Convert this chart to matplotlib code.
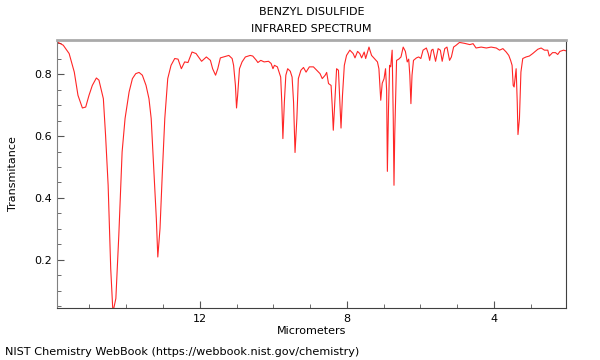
import matplotlib
matplotlib.use("Agg")
import matplotlib.pyplot as plt
from matplotlib.ticker import MultipleLocator

# spectrum (micrometers, transmittance)
micrometers = [
    15.88, 15.71, 15.55, 15.41, 15.31, 15.19, 15.10, 15.01, 14.92, 14.81,
    14.74, 14.62, 14.56, 14.49, 14.42, 14.36, 14.28, 14.20, 14.11, 14.03,
    13.92, 13.83, 13.74, 13.65, 13.56, 13.46, 13.38, 13.32, 13.25, 13.18,
    13.14, 13.08, 13.02, 12.95, 12.87, 12.78, 12.68, 12.59, 12.50, 12.41,
    12.32, 12.21, 12.10, 11.95, 11.82, 11.71, 11.65, 11.57, 11.51, 11.44,
    11.30, 11.21, 11.12, 11.08, 11.03, 11.00, 10.97, 10.92, 10.85, 10.76,
    10.63, 10.56, 10.46, 10.42, 10.34, 10.25, 10.13, 10.06, 10.01, 9.97,
    9.89, 9.83, 9.80, 9.77, 9.74, 9.70, 9.66, 9.61, 9.54, 9.49,
    9.45, 9.41, 9.36, 9.32, 9.25, 9.18, 9.11, 9.02, 8.91, 8.82,
    8.73, 8.67, 8.59, 8.55, 8.50, 8.43, 8.40, 8.37, 8.32, 8.28,
    8.23, 8.19, 8.16, 8.12, 8.07, 8.01, 7.92, 7.83, 7.78, 7.71,
    7.65, 7.60, 7.53, 7.49, 7.40, 7.33, 7.24, 7.17, 7.13, 7.10,
    7.08, 7.04, 6.99, 6.95, 6.92, 6.90, 6.87, 6.84, 6.81, 6.77,
    6.74, 6.72, 6.70, 6.65, 6.59, 6.53, 6.47, 6.41, 6.36, 6.32,
    6.29, 6.26, 6.23, 6.19, 6.11, 6.05, 5.99, 5.93, 5.84, 5.79,
    5.75, 5.70, 5.66, 5.59, 5.52, 5.46, 5.41, 5.34, 5.28, 5.21,
    5.16, 5.10, 5.03, 4.94, 4.80, 4.66, 4.57, 4.49, 4.35, 4.21,
    4.08, 3.94, 3.85, 3.76, 3.67, 3.60, 3.55, 3.51, 3.48, 3.455,
    3.43, 3.40, 3.37, 3.35, 3.31, 3.27, 3.22, 3.13, 3.04, 2.95,
    2.81, 2.72, 2.63, 2.54, 2.50, 2.41, 2.33, 2.27, 2.21, 2.11,
    2.05,
]
transmittance = [
    0.905, 0.894, 0.867, 0.807, 0.732, 0.691, 0.694, 0.732, 0.764, 0.788,
    0.781, 0.721, 0.603, 0.441, 0.172, 0.030, 0.075, 0.279, 0.549, 0.657,
    0.743, 0.786, 0.802, 0.806, 0.797, 0.764, 0.721, 0.657, 0.495, 0.333,
    0.209, 0.301, 0.473, 0.657, 0.786, 0.829, 0.851, 0.849, 0.818, 0.840,
    0.838, 0.872, 0.867, 0.842, 0.856, 0.845, 0.818, 0.797, 0.818, 0.853,
    0.858, 0.861, 0.851, 0.829, 0.764, 0.691, 0.732, 0.818, 0.840, 0.856,
    0.861, 0.859, 0.845, 0.838, 0.845, 0.840, 0.842, 0.835, 0.818, 0.829,
    0.824, 0.802, 0.791, 0.710, 0.592, 0.710, 0.797, 0.818, 0.810, 0.791,
    0.710, 0.547, 0.657, 0.786, 0.813, 0.822, 0.807, 0.824, 0.824, 0.813,
    0.802, 0.786, 0.797, 0.806, 0.770, 0.764, 0.700, 0.619, 0.732, 0.818,
    0.813, 0.710, 0.626, 0.732, 0.829, 0.861, 0.878, 0.867, 0.853, 0.874,
    0.867, 0.853, 0.872, 0.851, 0.888, 0.861, 0.849, 0.840, 0.818, 0.754,
    0.716, 0.771, 0.786, 0.818, 0.748, 0.486, 0.684, 0.829, 0.824, 0.878,
    0.657, 0.441, 0.603, 0.845, 0.849, 0.856, 0.888, 0.874, 0.840, 0.849,
    0.797, 0.705, 0.797, 0.845, 0.853, 0.856, 0.851, 0.878, 0.885, 0.867,
    0.845, 0.878, 0.881, 0.842, 0.883, 0.878, 0.842, 0.883, 0.888, 0.845,
    0.856, 0.888, 0.894, 0.903, 0.900, 0.896, 0.899, 0.885, 0.888, 0.885,
    0.888, 0.885, 0.878, 0.883, 0.872, 0.861, 0.845, 0.829, 0.764, 0.759,
    0.786, 0.818, 0.710, 0.605, 0.657, 0.807, 0.851, 0.856, 0.859, 0.867,
    0.881, 0.885, 0.878, 0.878, 0.859, 0.870, 0.870, 0.864, 0.874, 0.878,
    0.876,
]

fig = plt.figure(figsize=(6, 3.6), dpi=100)
ax = fig.add_axes([0.095, 0.1444, 0.848, 0.7446])

ax.plot(micrometers, transmittance, color="red", linewidth=0.8, alpha=0.85)

ax.set_xlim(15.88, 2.05)
ax.set_ylim(0.044, 0.911)

ax.xaxis.set_major_locator(MultipleLocator(4))
ax.xaxis.set_minor_locator(MultipleLocator(1))
ax.yaxis.set_major_locator(MultipleLocator(0.2))
ax.yaxis.set_minor_locator(MultipleLocator(0.05))
ax.tick_params(which="both", direction="in", labelsize=8, colors="#555555",
               labelcolor="black")
ax.tick_params(which="major", length=5)
ax.tick_params(which="minor", length=3)
ax.tick_params(axis="x", pad=4)

ax.spines["top"].set_color("#aaaaaa")
ax.spines["top"].set_linewidth(2.0)
ax.spines["left"].set_color("#808080")
ax.spines["bottom"].set_color("#404040")
ax.spines["right"].set_color("#404040")

ax.set_xlabel("Micrometers", fontsize=8, labelpad=2)
ax.set_ylabel("Transmitance", fontsize=8, labelpad=12)

fig.text(0.519, 0.967, "BENZYL DISULFIDE", ha="center", va="center", fontsize=8)
fig.text(0.519, 0.920, "INFRARED SPECTRUM", ha="center", va="center", fontsize=8)
fig.text(0.008, 0.022, "NIST Chemistry WebBook (https://webbook.nist.gov/chemistry)",
         ha="left", va="center", fontsize=8.15)

plt.savefig("out.png", dpi=100)
